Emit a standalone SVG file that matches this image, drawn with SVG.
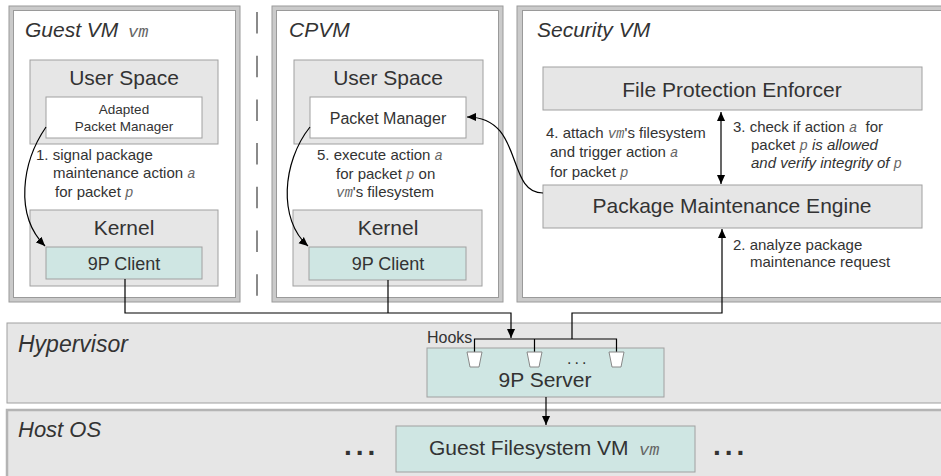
<svg xmlns="http://www.w3.org/2000/svg" width="941" height="476" viewBox="0 0 941 476">
<defs>
<marker id="ah" viewBox="0 0 10 10" refX="10" refY="5" markerWidth="9" markerHeight="9" markerUnits="userSpaceOnUse" orient="auto-start-reverse">
<path d="M0,0.5 L10,5 L0,9.5 z" fill="#000"/>
</marker>
</defs>
<style>
.fo{fill:#cacaca;stroke:#9a9a9a;stroke-width:1}
.fi{fill:#fff;stroke:#9a9a9a;stroke-width:1}
.gb{fill:#e6e6e6;stroke:#a0a0a0;stroke-width:1}
.wb{fill:#fff;stroke:#a0a0a0;stroke-width:1}
.tb{fill:#cfe6e3;stroke:#a0a0a0;stroke-width:1}
text{font-family:"Liberation Sans",Arial,sans-serif;fill:#333}
.ti{font-size:21px;font-style:italic}
.big{font-size:21px;text-anchor:middle}
.ann{font-size:15px}
.m{font-family:"Liberation Mono","Courier New",monospace;font-style:italic;fill:#666;font-size:14px}
.it{font-style:italic}
.ln{fill:none;stroke:#000;stroke-width:1.2}
</style>

<g id="guest-vm">
<rect class="fo" x="9" y="6" width="231" height="296"/>
<rect class="fi" x="13.5" y="10.5" width="222" height="287"/>
<text class="ti" x="25" y="37">Guest VM <tspan class="m" x="128" style="font-size:17px">vm</tspan></text>
</g>
<g id="guest-user-space">
<rect class="gb" x="30" y="60" width="188" height="84"/>
<text class="big" x="124" y="85">User Space</text>
</g>
<g id="adapted-packet-manager">
<rect class="wb" x="46" y="97" width="156" height="41"/>
<text x="124" y="114" font-size="13.5" text-anchor="middle">Adapted</text>
<text x="124" y="131" font-size="13.5" text-anchor="middle">Packet Manager</text>
</g>
<g id="guest-kernel">
<rect class="gb" x="30" y="210" width="188" height="76"/>
<text class="big" x="124" y="235">Kernel</text>
</g>
<g id="guest-9p-client">
<rect class="tb" x="46" y="247" width="156" height="32"/>
<text x="124" y="270" font-size="18" text-anchor="middle">9P Client</text>
</g>

<g id="separator">
<line x1="257" y1="12" x2="257" y2="296" stroke="#8a8a8a" stroke-width="2" stroke-dasharray="21.5 22.2"/>
</g>

<g id="cpvm">
<rect class="fo" x="272" y="6" width="231" height="296"/>
<rect class="fi" x="276.5" y="10.5" width="222" height="287"/>
<text class="ti" x="289" y="37">CPVM</text>
</g>
<g id="cpvm-user-space">
<rect class="gb" x="294" y="60" width="189" height="84"/>
<text class="big" x="388" y="85">User Space</text>
</g>
<g id="packet-manager">
<rect class="wb" x="310" y="97" width="156" height="41"/>
<text x="388" y="124" font-size="16" text-anchor="middle">Packet Manager</text>
</g>
<g id="cpvm-kernel">
<rect class="gb" x="293" y="210" width="189" height="76"/>
<text class="big" x="388" y="235">Kernel</text>
</g>
<g id="cpvm-9p-client">
<rect class="tb" x="309" y="247" width="157" height="33"/>
<text x="388" y="270" font-size="18" text-anchor="middle">9P Client</text>
</g>

<g id="security-vm">
<rect class="fo" x="517" y="6" width="440" height="296"/>
<rect class="fi" x="522.5" y="10.5" width="430" height="287"/>
<text class="ti" x="537" y="37">Security VM</text>
</g>
<g id="file-protection-enforcer">
<rect class="gb" x="543" y="67" width="379" height="43"/>
<text class="big" x="732" y="97">File Protection Enforcer</text>
</g>
<g id="package-maintenance-engine">
<rect class="gb" x="543" y="185" width="379" height="43"/>
<text class="big" x="732" y="213">Package Maintenance Engine</text>
</g>

<g id="hypervisor">
<rect class="gb" x="7" y="323" width="950" height="80"/>
<text x="18" y="352" font-size="23" font-style="italic">Hypervisor</text>
</g>
<g id="9p-server">
<rect class="tb" x="427" y="348" width="237" height="49"/>
<text class="big" x="545" y="387">9P Server</text>
</g>
<g id="hooks">
<text x="427" y="343" font-size="16">Hooks</text>
<path class="ln" d="M474.5,352 V339 H616.5 V352 M534.5,339 V352"/>
<polygon points="467,352 482,352 479,367 470,367" fill="#fff" stroke="#888"/>
<polygon points="527,352 542,352 539,367 530,367" fill="#fff" stroke="#888"/>
<polygon points="609,352 624,352 621,367 612,367" fill="#fff" stroke="#888"/>
<text x="567" y="364" font-size="16" letter-spacing="3">...</text>
</g>

<g id="host-os">
<rect x="7" y="410" width="950" height="80" fill="#e6e6e6" stroke="#b4b4b4" stroke-width="2.5"/>
<text x="18" y="437" font-size="22" font-style="italic">Host OS</text>
<text x="344" y="455" font-size="28" font-weight="bold" letter-spacing="4">...</text>
<text x="713" y="455" font-size="28" font-weight="bold" letter-spacing="4">...</text>
</g>
<g id="guest-filesystem">
<rect class="tb" x="396" y="426" width="299" height="46"/>
<text x="429" y="455" font-size="21">Guest Filesystem VM <tspan class="m" x="639" style="font-size:17px">vm</tspan></text>
</g>

<g id="connectors">
<path class="ln" d="M46,127 C22,162 14,215 45,246" marker-end="url(#ah)"/>
<path class="ln" d="M310,127 C282,162 278,220 308,246" marker-end="url(#ah)"/>
<path class="ln" d="M543,193 C505,193 525,117 467,117" marker-end="url(#ah)"/>
<path class="ln" d="M721,112 V184" marker-start="url(#ah)" marker-end="url(#ah)"/>
<path class="ln" d="M572,339 V313 H722 V229" marker-end="url(#ah)"/>
<path class="ln" d="M125,279 V313 H511 V338" marker-end="url(#ah)"/>
<path class="ln" d="M388,280 V313"/>
<path class="ln" d="M546,397 V425" marker-end="url(#ah)"/>
</g>

<g id="labels">
<text class="ann" x="36" y="160">1. signal package</text>
<text class="ann" x="53" y="178">maintenance action <tspan class="m">a</tspan></text>
<text class="ann" x="55" y="197">for packet <tspan class="m">p</tspan></text>
<text class="ann" x="317" y="160">5. execute action <tspan class="m">a</tspan></text>
<text class="ann" x="336" y="179">for packet <tspan class="m">p</tspan> on</text>
<text class="ann" x="336" y="197"><tspan class="m">vm</tspan>'s filesystem</text>
<text class="ann" x="546" y="138">4. attach <tspan class="m">vm</tspan>'s filesystem</text>
<text class="ann" x="550" y="157">and trigger action <tspan class="m">a</tspan></text>
<text class="ann" x="550" y="177">for packet <tspan class="m">p</tspan></text>
<text class="ann" x="733" y="132">3. check if action <tspan class="m">a</tspan><tspan dx="4"> for</tspan></text>
<text class="ann" x="751" y="150">packet <tspan class="m">p</tspan><tspan class="it"> is allowed</tspan></text>
<text class="ann it" x="751" y="168">and verify integrity of <tspan class="m">p</tspan></text>
<text class="ann" x="733" y="250">2. analyze package</text>
<text class="ann" x="750" y="267">maintenance request</text>
</g>
</svg>
